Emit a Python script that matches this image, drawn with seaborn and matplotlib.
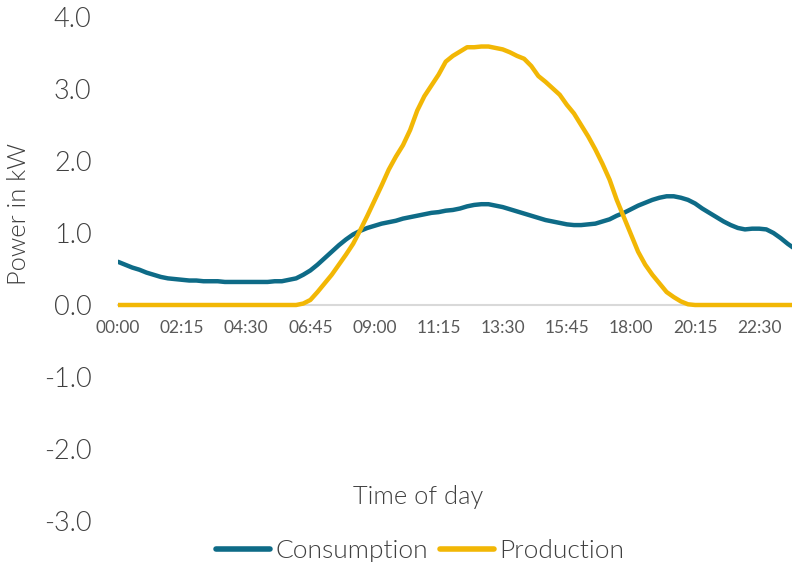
import matplotlib
matplotlib.use("Agg")
import matplotlib.pyplot as plt
import seaborn as sns
import pandas as pd
import numpy as np

# ── Data (15-min resolution, 96 steps) ─────────────────────────
times = [f"{h:02d}:{m:02d}" for h in range(24) for m in (0, 15, 30, 45)]

consumption = [
    0.60, 0.56, 0.52, 0.49, 0.45, 0.42, 0.39, 0.37, 0.36, 0.35,
    0.34, 0.34, 0.33, 0.33, 0.33, 0.32, 0.32, 0.32, 0.32, 0.32,
    0.32, 0.32, 0.33, 0.33, 0.35, 0.37, 0.42, 0.48, 0.56, 0.65,
    0.74, 0.83, 0.91, 0.98, 1.03, 1.07, 1.10, 1.13, 1.15, 1.17,
    1.20, 1.22, 1.24, 1.26, 1.28, 1.29, 1.31, 1.32, 1.34, 1.37,
    1.39, 1.40, 1.40, 1.38, 1.36, 1.33, 1.30, 1.27, 1.24, 1.21,
    1.18, 1.16, 1.14, 1.12, 1.11, 1.11, 1.12, 1.13, 1.16, 1.19,
    1.24, 1.28, 1.33, 1.38, 1.42, 1.46, 1.49, 1.51, 1.51, 1.49,
    1.46, 1.41, 1.34, 1.28, 1.22, 1.16, 1.11, 1.07, 1.05, 1.06,
    1.06, 1.05, 1.00, 0.93, 0.85, 0.78,
]

production = [0.0] * 25 + [
    0.00, 0.02, 0.07, 0.18, 0.30, 0.42, 0.56, 0.70, 0.85, 1.04,
    1.24, 1.45, 1.66, 1.88, 2.06, 2.22, 2.43, 2.70, 2.90, 3.05,
    3.20, 3.38, 3.46, 3.52, 3.58, 3.58, 3.59, 3.59, 3.57, 3.55,
    3.51, 3.46, 3.42, 3.32, 3.18, 3.10, 3.01, 2.92, 2.78, 2.66,
    2.50, 2.34, 2.16, 1.96, 1.74, 1.46, 1.22, 0.98, 0.74, 0.56,
    0.42, 0.30, 0.18, 0.11, 0.05, 0.01,
] + [0.0] * 15

series_names = ["Consumption", "Production"]
series_colors = ["#0E6B87", "#F2B705"]

df = pd.DataFrame({
    "step": list(range(96)) * 2,
    "value": consumption + production,
    "series": ["Consumption"] * 96 + ["Production"] * 96,
})

# ── Plot ───────────────────────────────────────────────────────
sns.set_style("white")
plt.rcParams["font.family"] = ["Lato", "DejaVu Sans"]
W = 300  # Lato Light

fig = plt.figure(figsize=(7.92, 5.62), dpi=100)
ax = fig.add_axes([118 / 792, 1 - 521 / 562, 1 - 118 / 792, (521 - 17) / 562])

sns.lineplot(data=df, x="step", y="value", hue="series",
             hue_order=series_names, palette=series_colors,
             linewidth=3.2, ax=ax, legend=False,
             solid_capstyle="round", solid_joinstyle="round")

# spine moves first: set_position resets the ticks
for s in ["top", "right", "left"]:
    ax.spines[s].set_visible(False)
ax.spines["bottom"].set_position(("data", 0))
ax.spines["bottom"].set_color("#D9D9D9")
ax.spines["bottom"].set_linewidth(1.5)
ax.spines["bottom"].set_zorder(0)

ax.set_xlim(0, 94.6)
ax.set_ylim(-3, 4)
ax.set_yticks(np.arange(-3, 4.1, 1))
ax.set_yticklabels([f"{v:.1f}" for v in np.arange(-3, 4.1, 1)],
                   fontsize=19.5, color="#404040", fontweight=W)

tick_idx = list(range(0, 96, 9))
ax.set_xticks(tick_idx)
ax.set_xticklabels([times[i] for i in tick_idx], fontsize=12.5,
                   color="#595959", fontweight="normal")

ax.tick_params(axis="x", length=0, pad=11)
ax.tick_params(axis="y", length=0, pad=19)

ax.set_xlabel("")
ax.set_ylabel("")
fig.text(19 / 792, 1 - 214 / 562, "Power in kW", fontsize=18.3, rotation=90,
         color="#404040", fontweight=W, ha="center", va="center")

fig.text(418 / 792, 1 - 497 / 562, "Time of day", fontsize=18.3,
         color="#404040", fontweight=W, ha="center", va="center")

handles = [plt.Line2D([], [], color=c, linewidth=4, solid_capstyle="round")
           for c in series_colors]
leg = fig.legend(handles, series_names, loc="center",
                 bbox_to_anchor=(420 / 792, 1 - 551 / 562), ncol=2,
                 frameon=False, fontsize=19, handlelength=2.05,
                 handletextpad=0.2, columnspacing=0.45)
for t in leg.get_texts():
    t.set_color("#404040")
    t.set_fontweight(W)

fig.savefig("out.png", dpi=100)
